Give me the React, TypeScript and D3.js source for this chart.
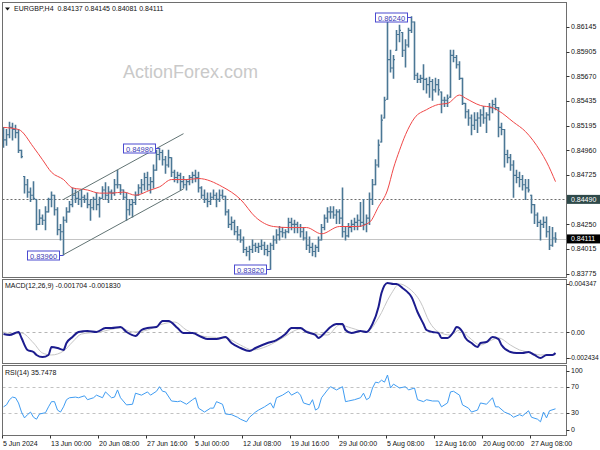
import React, { useRef, useEffect } from 'react';
import * as d3 from 'd3';

// 8-hour bars (two H4 bars per drawn bar)
const highs = [
  0.8518, 0.8516, 0.8523, 0.8522, 0.8520, 0.8516, 0.8496, 0.8471, 0.8468, 0.8460,
  0.8466, 0.8449, 0.8439, 0.8434, 0.8442, 0.8450, 0.8456, 0.8453, 0.8441, 0.8425,
  0.8432, 0.8441, 0.8447, 0.8460, 0.8458, 0.8456, 0.8458, 0.8453, 0.8455, 0.8449,
  0.8451, 0.8455, 0.8451, 0.8461, 0.8465, 0.8461, 0.8458, 0.8468, 0.8477, 0.8463,
  0.8458, 0.8455, 0.8449, 0.8449, 0.8456, 0.8463, 0.8468, 0.8474, 0.8475, 0.8470,
  0.8482, 0.8496, 0.8498, 0.8496, 0.8490, 0.8496, 0.8489, 0.8477, 0.8475, 0.8474,
  0.8471, 0.8468, 0.8472, 0.8475, 0.8477, 0.8475, 0.8461, 0.8458, 0.8455, 0.8455,
  0.8458, 0.8455, 0.8458, 0.8458, 0.8452, 0.8439, 0.8432, 0.8429, 0.8423, 0.8420,
  0.8413, 0.8403, 0.8404, 0.8410, 0.8407, 0.8407, 0.8410, 0.8408, 0.8405, 0.8407,
  0.8414, 0.8420, 0.8423, 0.8422, 0.8420, 0.8431, 0.8431, 0.8429, 0.8427, 0.8425,
  0.8422, 0.8418, 0.8413, 0.8407, 0.8405, 0.8413, 0.8425, 0.8434, 0.8441, 0.8442,
  0.8442, 0.8439, 0.8439, 0.8460, 0.8422, 0.8426, 0.8429, 0.8431, 0.8434, 0.8446,
  0.8449, 0.8434, 0.8455, 0.8468, 0.8487, 0.8506, 0.8530, 0.8547, 0.8619, 0.8592,
  0.8587, 0.8611, 0.8616, 0.8609, 0.8602, 0.8613, 0.8624, 0.8619, 0.8570, 0.8568,
  0.8578, 0.8565, 0.8566, 0.8564, 0.8565, 0.8564, 0.8552, 0.8547, 0.8549, 0.8592,
  0.8592, 0.8587, 0.8581, 0.8565, 0.8541, 0.8535, 0.8530, 0.8532, 0.8532, 0.8535,
  0.8538, 0.8532, 0.8541, 0.8544, 0.8546, 0.8537, 0.8522, 0.8516, 0.8496, 0.8492,
  0.8486, 0.8477, 0.8475, 0.8472, 0.8468, 0.8468, 0.8453, 0.8444, 0.8436, 0.8429,
  0.8432, 0.8432, 0.8423, 0.8422, 0.8417,
];
const lows = [
  0.8499, 0.8501, 0.8508, 0.8506, 0.8508, 0.8494, 0.8489, 0.8455, 0.8451, 0.8447,
  0.8449, 0.8420, 0.8425, 0.8425, 0.8420, 0.8437, 0.8442, 0.8434, 0.8415, 0.8410,
  0.8396, 0.8427, 0.8437, 0.8442, 0.8446, 0.8444, 0.8442, 0.8446, 0.8441, 0.8429,
  0.8439, 0.8439, 0.8432, 0.8450, 0.8449, 0.8446, 0.8449, 0.8453, 0.8460, 0.8454,
  0.8449, 0.8429, 0.8434, 0.8432, 0.8444, 0.8453, 0.8455, 0.8458, 0.8458, 0.8455,
  0.8460, 0.8477, 0.8487, 0.8482, 0.8474, 0.8480, 0.8471, 0.8466, 0.8465, 0.8458,
  0.8460, 0.8458, 0.8463, 0.8465, 0.8466, 0.8456, 0.8450, 0.8446, 0.8442, 0.8444,
  0.8449, 0.8442, 0.8447, 0.8450, 0.8434, 0.8422, 0.8420, 0.8415, 0.8410, 0.8408,
  0.8398, 0.8395, 0.8391, 0.8398, 0.8399, 0.8398, 0.8401, 0.8396, 0.8395, 0.8382,
  0.8401, 0.8407, 0.8410, 0.8413, 0.8412, 0.8417, 0.8420, 0.8417, 0.8417, 0.8413,
  0.8410, 0.8401, 0.8398, 0.8395, 0.8394, 0.8399, 0.8410, 0.8420, 0.8427, 0.8431,
  0.8431, 0.8426, 0.8426, 0.8413, 0.8410, 0.8413, 0.8418, 0.8420, 0.8420, 0.8423,
  0.8420, 0.8418, 0.8425, 0.8444, 0.8463, 0.8480, 0.8504, 0.8527, 0.8545, 0.8571,
  0.8565, 0.8592, 0.8600, 0.8586, 0.8576, 0.8595, 0.8609, 0.8564, 0.8561, 0.8561,
  0.8554, 0.8551, 0.8547, 0.8544, 0.8552, 0.8549, 0.8532, 0.8538, 0.8538, 0.8547,
  0.8581, 0.8575, 0.8564, 0.8540, 0.8527, 0.8520, 0.8511, 0.8516, 0.8513, 0.8519,
  0.8522, 0.8513, 0.8525, 0.8532, 0.8535, 0.8509, 0.8511, 0.8480, 0.8484, 0.8477,
  0.8451, 0.8465, 0.8461, 0.8458, 0.8449, 0.8456, 0.8436, 0.8426, 0.8423, 0.8410,
  0.8422, 0.8413, 0.8401, 0.8404, 0.8408,
];
const closes = [
  0.8506, 0.8511, 0.8518, 0.8516, 0.8513, 0.8496, 0.8490, 0.8463, 0.8456, 0.8453,
  0.8450, 0.8425, 0.8431, 0.8429, 0.8437, 0.8449, 0.8453, 0.8439, 0.8420, 0.8418,
  0.8429, 0.8437, 0.8444, 0.8453, 0.8450, 0.8449, 0.8451, 0.8449, 0.8444, 0.8441,
  0.8449, 0.8444, 0.8450, 0.8458, 0.8453, 0.8456, 0.8455, 0.8463, 0.8463, 0.8458,
  0.8451, 0.8439, 0.8444, 0.8446, 0.8453, 0.8460, 0.8463, 0.8470, 0.8463, 0.8466,
  0.8477, 0.8492, 0.8494, 0.8487, 0.8482, 0.8489, 0.8475, 0.8470, 0.8472, 0.8466,
  0.8463, 0.8466, 0.8470, 0.8472, 0.8470, 0.8460, 0.8453, 0.8449, 0.8447, 0.8451,
  0.8453, 0.8449, 0.8453, 0.8452, 0.8437, 0.8425, 0.8427, 0.8418, 0.8415, 0.8410,
  0.8401, 0.8399, 0.8401, 0.8405, 0.8403, 0.8404, 0.8405, 0.8401, 0.8399, 0.8405,
  0.8410, 0.8415, 0.8418, 0.8417, 0.8418, 0.8427, 0.8425, 0.8425, 0.8422, 0.8418,
  0.8412, 0.8405, 0.8403, 0.8399, 0.8403, 0.8410, 0.8422, 0.8431, 0.8437, 0.8437,
  0.8434, 0.8437, 0.8431, 0.8418, 0.8414, 0.8422, 0.8425, 0.8427, 0.8429, 0.8427,
  0.8425, 0.8431, 0.8449, 0.8463, 0.8482, 0.8501, 0.8525, 0.8544, 0.8583, 0.8575,
  0.8583, 0.8607, 0.8611, 0.8592, 0.8597, 0.8611, 0.8619, 0.8568, 0.8564, 0.8565,
  0.8564, 0.8559, 0.8562, 0.8554, 0.8559, 0.8554, 0.8544, 0.8544, 0.8546, 0.8587,
  0.8585, 0.8578, 0.8565, 0.8541, 0.8533, 0.8527, 0.8520, 0.8525, 0.8527, 0.8530,
  0.8527, 0.8530, 0.8537, 0.8540, 0.8537, 0.8518, 0.8516, 0.8492, 0.8489, 0.8482,
  0.8472, 0.8470, 0.8468, 0.8463, 0.8460, 0.8458, 0.8444, 0.8434, 0.8427, 0.8425,
  0.8427, 0.8418, 0.8405, 0.8412, 0.8411,
];

// moving average, [bar, price]
const maPoints: [number, number][] = [
  [0, 0.8518], [5, 0.8516], [10, 0.8499], [13, 0.8487], [16, 0.8475], [20, 0.8468],
  [23, 0.8460], [28, 0.8458], [32, 0.8455], [36, 0.8455], [40, 0.8456], [44, 0.8453],
  [49, 0.8458], [52, 0.8461], [56, 0.8468], [61, 0.8468], [65, 0.8469], [73, 0.8461],
  [79, 0.8449], [84, 0.8432], [90, 0.8423], [95, 0.8422], [101, 0.8422], [106, 0.8416],
  [112, 0.8423], [118, 0.8423], [122, 0.8427], [125, 0.8442], [128, 0.8458], [130, 0.8479],
  [132, 0.8496], [134, 0.8511], [137, 0.8527], [141, 0.8535], [145, 0.8540], [148, 0.8541],
  [152, 0.8549], [154, 0.8546], [159, 0.8539], [163, 0.8537], [165, 0.8534], [170, 0.8523],
  [174, 0.8514], [179, 0.8495], [181, 0.8485], [184, 0.8466],
];

const macdMain: [number, number][] = [
  [0, -0.00015], [2, -0.00023], [5, 0.00002], [6, -0.00047], [8, -0.00145], [10, -0.00162],
  [11, -0.00186], [13, -0.00203], [15, -0.00186], [16, -0.00121], [18, -0.00129], [20, -0.00145],
  [21, -0.00088], [23, -0.00039], [25, 0.00002], [28, 0.0001], [31, 0.00002], [34, 0.00034],
  [36, 0.00034], [39, 0.00042], [41, 0.00002], [44, -0.00031], [46, 0.00018], [48, 0.00034],
  [51, 0.00042], [53, 0.00092], [55, 0.00092], [58, 0.00034], [60, -0.00007], [63, -0.00007],
  [66, -0.00039], [68, -0.00056], [71, -0.00056], [74, -0.00039], [76, -0.00088], [79, -0.00129],
  [82, -0.00154], [84, -0.00129], [88, -0.00088], [91, -0.00064], [94, -0.00015], [96, 0.00034],
  [99, 0.00034], [101, 0.00002], [104, -0.00023], [105, -0.00047], [107, -0.00007], [109, 0.00042],
  [111, 0.00067], [113, 0.00067], [114, 0.00018], [116, -0.00007], [119, 0.0001], [121, 0.00002],
  [123, 0.00067], [125, 0.00206], [126, 0.0032], [128, 0.00402], [130, 0.00394], [131, 0.00394],
  [133, 0.00361], [135, 0.0032], [136, 0.00288], [138, 0.00165], [140, 0.00067], [141, 0.00018],
  [143, 0.00002], [145, -0.00007], [146, -0.00047], [148, -0.00047], [150, 0.00002], [151, 0.00042],
  [153, 0.00002], [154, -0.00047], [156, -0.00088], [158, -0.00121], [159, -0.00088], [161, -0.0008],
  [163, -0.00039], [165, -0.00056], [166, -0.00105], [169, -0.00162], [171, -0.0017], [173, -0.0017],
  [175, -0.00162], [177, -0.00186], [179, -0.00211], [181, -0.00186], [183, -0.00186], [184, -0.0017],
];
const macdSignal: [number, number][] = [
  [0, 0.00002], [3, -0.00015], [6, -0.00007], [10, -0.00088], [13, -0.0017], [16, -0.00186],
  [20, -0.00154], [23, -0.0008], [26, -0.00015], [32, 0.00002], [39, 0.00034], [43, 0.00002],
  [48, 0.00018], [52, 0.00059], [57, 0.00083], [61, 0.00018], [68, -0.00039], [74, -0.00047],
  [79, -0.00105], [83, -0.00145], [88, -0.00113], [93, -0.00047], [99, 0.00026], [103, -0.00007],
  [108, -0.00023], [112, 0.00059], [116, 0.00034], [121, 0.00002], [125, 0.00116], [129, 0.00304],
  [132, 0.00394], [135, 0.00361], [139, 0.00247], [142, 0.00083], [145, 0.00002], [149, -0.00023],
  [152, 0.00018], [155, -0.00039], [159, -0.00105], [162, -0.00072], [165, -0.00047], [169, -0.00105],
  [172, -0.00145], [175, -0.00162], [179, -0.00186], [184, -0.00183],
];

const rsiPoints: [number, number][] = [
  [0, 39], [1, 42], [2, 50], [3, 54], [4, 53], [5, 45], [6, 31], [7, 22], [8, 27], [9, 31],
  [10, 23], [11, 20], [12, 28], [14, 30], [15, 39], [16, 47], [17, 47], [18, 34], [19, 31], [20, 39],
  [21, 50], [22, 53], [24, 54], [25, 53], [27, 56], [28, 50], [30, 53], [31, 57], [33, 53], [34, 62],
  [36, 53], [37, 54], [38, 65], [39, 53], [41, 42], [43, 43], [44, 60], [46, 57], [48, 62], [49, 57],
  [51, 63], [52, 70], [53, 63], [54, 62], [56, 48], [58, 47], [59, 48], [61, 43], [63, 50], [64, 53],
  [65, 37], [67, 31], [69, 37], [70, 37], [71, 47], [73, 43], [74, 28], [76, 27], [78, 23], [79, 20],
  [81, 16], [82, 23], [84, 31], [85, 34], [87, 39], [89, 45], [90, 37], [91, 53], [93, 57], [95, 63],
  [96, 57], [98, 62], [99, 57], [100, 45], [102, 42], [103, 50], [104, 34], [105, 37], [106, 53], [108, 65],
  [109, 70], [111, 65], [113, 70], [114, 47], [115, 48], [117, 50], [119, 53], [120, 60], [121, 50], [122, 53],
  [123, 68], [124, 77], [125, 76], [126, 80], [127, 77], [128, 88], [129, 68], [130, 74], [132, 68], [134, 70],
  [135, 65], [137, 68], [138, 50], [140, 47], [141, 50], [143, 48], [145, 48], [146, 39], [148, 45], [149, 62],
  [150, 63], [152, 57], [153, 42], [155, 37], [156, 31], [158, 34], [159, 45], [161, 43], [163, 53], [164, 39],
  [165, 39], [167, 31], [169, 27], [170, 23], [172, 27], [173, 25], [175, 33], [176, 23], [178, 20], [179, 16],
  [180, 31], [181, 22], [182, 33], [184, 36],
];

const timeLabels = [
  '5 Jun 2024', '13 Jun 00:00', '20 Jun 08:00', '27 Jun 16:00', '5 Jul 00:00', '12 Jul 08:00',
  '19 Jul 16:00', '29 Jul 00:00', '5 Aug 08:00', '12 Aug 16:00', '20 Aug 00:00', '27 Aug 08:00',
];
const barsPerLabel = 16;
const priceTicks = [0.86145, 0.85905, 0.8567, 0.85435, 0.85195, 0.8496, 0.84725, 0.8425, 0.84015, 0.83775];
const macdTicks = [0.004347, 0, -0.002434];
const rsiTicks = [100, 70, 30, 0];
const rsiLevels = [70, 30];

const pivotBars = [136, 52, 20, 89];
const pivotPrices = [0.8624, 0.8498, 0.8396, 0.8382];

const channelLower: [number, number][] = [[20, 0.8396], [60, 0.8459]];
const channelUpper: [number, number][] = [[20, 0.8449], [60, 0.8512]];
const resistanceLevel = 0.8449;
const lastPrice = 0.84111;

const header = 'EURGBP,H4  0.84137 0.84145 0.84081 0.84111';
const macdTitle = 'MACD(12,26,9) -0.001704 -0.001830';
const rsiTitle = 'RSI(14) 35.7478';

const FONT = "'Liberation Sans', Arial, sans-serif";

const App: React.FC = () => {
  const ref = useRef<SVGSVGElement>(null);

  useEffect(() => {
    if (!ref.current) return;
    const svg = d3.select(ref.current);
    svg.selectAll('*').remove();

    const left = 2.5, right = 566.5;
    const mainTop = 2.5, mainBottom = 277.5;
    const macdTop = 279.5, macdBottom = 363.5;
    const rsiTop = 365.5, rsiBottom = 435.5;

    const x = d3.scaleLinear().domain([0, 184]).range([3.5, 555.5]);
    const y = d3.scaleLinear().domain([0.83746, 0.86382]).range([277, 2]);
    const yM = d3.scaleLinear().domain([-0.002434, 0.004347]).range([362, 279]);
    const yR = d3.scaleLinear().domain([0, 100]).range([432.2, 367.2]);

    svg.append('rect').attr('width', 600).attr('height', 450).attr('fill', '#fff');

    const defs = svg.append('defs');
    const clip = (id: string, t: number, b: number) =>
      defs.append('clipPath').attr('id', id).append('rect')
        .attr('x', left + 0.5).attr('y', t + 0.5).attr('width', right - left - 1).attr('height', b - t - 1);
    clip('clip-main', mainTop, mainBottom);
    clip('clip-macd', macdTop, macdBottom);
    clip('clip-rsi', rsiTop, rsiBottom);

    // watermark
    svg.append('text').attr('x', 123).attr('y', 78).attr('font-family', FONT).attr('font-size', 18)
      .attr('fill', '#c9c9c9').text('ActionForex.com');

    const main = svg.append('g').attr('clip-path', 'url(#clip-main)');

    // levels
    main.append('line').attr('x1', left).attr('x2', right)
      .attr('y1', Math.round(y(resistanceLevel)) + 0.5).attr('y2', Math.round(y(resistanceLevel)) + 0.5)
      .attr('stroke', '#6d6d6d').attr('stroke-dasharray', '2,2');
    main.append('line').attr('x1', left).attr('x2', right)
      .attr('y1', Math.round(y(lastPrice)) + 0.5).attr('y2', Math.round(y(lastPrice)) + 0.5)
      .attr('stroke', '#c4c4c4');

    // OHLC bars; open taken as the previous close, kept inside the bar's range
    const opens = closes.map((c, i) => {
      const prev = i === 0 ? c : closes[i - 1];
      return Math.min(highs[i], Math.max(lows[i], prev));
    });
    let barPath = '';
    let tickPath = '';
    closes.forEach((c, i) => {
      const xc = x(i);
      barPath += `M${xc},${y(highs[i]) - 0.5}V${y(lows[i]) + 0.5}`;
      tickPath += `M${xc - 1.5},${y(opens[i])}H${xc}M${xc},${y(c)}H${xc + 1.5}`;
    });
    main.append('path').attr('d', barPath).attr('fill', 'none')
      .attr('stroke', '#4b7795').attr('stroke-width', 1.6);
    main.append('path').attr('d', tickPath).attr('fill', 'none')
      .attr('stroke', '#4b7795').attr('stroke-width', 1.1);

    // moving average
    const priceLine = d3.line<[number, number]>().x(d => x(d[0])).y(d => y(d[1])).curve(d3.curveMonotoneX);
    main.append('path').attr('d', priceLine(maPoints) as string).attr('fill', 'none')
      .attr('stroke', '#f04848').attr('stroke-width', 1);

    // channel
    [channelLower, channelUpper].forEach(seg => {
      main.append('line')
        .attr('x1', x(seg[0][0])).attr('y1', y(seg[0][1]))
        .attr('x2', x(seg[1][0])).attr('y2', y(seg[1][1]))
        .attr('stroke', '#627474').attr('stroke-width', 1);
    });

    // pivot labels
    pivotBars.forEach((b, i) => {
      const py = Math.round(y(pivotPrices[i])) + 0.5;
      const bx = x(b);
      const boxR = bx - 4;
      const boxW = 32;
      main.append('line').attr('x1', boxR).attr('x2', bx).attr('y1', py).attr('y2', py)
        .attr('stroke', '#4a4ad0');
      main.append('rect').attr('x', boxR - boxW).attr('y', py - 4.5).attr('width', boxW).attr('height', 9)
        .attr('fill', '#fff').attr('stroke', '#4a4ad0');
      main.append('text').attr('x', boxR - boxW / 2).attr('y', py + 3)
        .attr('text-anchor', 'middle').attr('font-family', FONT).attr('font-size', 7.5)
        .attr('fill', '#3c3cb4').text(pivotPrices[i].toFixed(5));
    });

    // MACD
    const macd = svg.append('g').attr('clip-path', 'url(#clip-macd)');
    macd.append('line').attr('x1', left).attr('x2', right)
      .attr('y1', Math.round(yM(0)) + 0.5).attr('y2', Math.round(yM(0)) + 0.5)
      .attr('stroke', '#b5b5b5').attr('stroke-dasharray', '3,3');
    const macdLine = d3.line<[number, number]>().x(d => x(d[0])).y(d => yM(d[1])).curve(d3.curveMonotoneX);
    macd.append('path').attr('d', macdLine(macdSignal) as string).attr('fill', 'none')
      .attr('stroke', '#c6c6c6').attr('stroke-width', 1);
    macd.append('path').attr('d', macdLine(macdMain) as string).attr('fill', 'none')
      .attr('stroke', '#1c1c8e').attr('stroke-width', 2).attr('stroke-linejoin', 'round');

    // RSI
    const rsi = svg.append('g').attr('clip-path', 'url(#clip-rsi)');
    rsiLevels.forEach(l => {
      rsi.append('line').attr('x1', left).attr('x2', right)
        .attr('y1', Math.round(yR(l)) + 0.5).attr('y2', Math.round(yR(l)) + 0.5)
        .attr('stroke', '#c2c2c2').attr('stroke-dasharray', '3,3');
    });
    const rsiLine = d3.line<[number, number]>().x(d => x(d[0])).y(d => yR(d[1]));
    rsi.append('path').attr('d', rsiLine(rsiPoints) as string).attr('fill', 'none')
      .attr('stroke', '#3f9cf2').attr('stroke-width', 1);

    // frames
    [[mainTop, mainBottom], [macdTop, macdBottom], [rsiTop, rsiBottom]].forEach(([t, b]) => {
      svg.append('rect').attr('x', left).attr('y', t).attr('width', right - left).attr('height', b - t)
        .attr('fill', 'none').attr('stroke', '#6e6e6e');
    });

    // right axes
    const axisText = (yy: number, label: string, size = 7, tx = 571) => {
      svg.append('line').attr('x1', right).attr('x2', right + 3)
        .attr('y1', Math.round(yy) + 0.5).attr('y2', Math.round(yy) + 0.5).attr('stroke', '#333');
      svg.append('text').attr('x', tx).attr('y', yy + 2.5).attr('font-family', FONT)
        .attr('font-size', size).attr('fill', '#111').text(label);
    };
    priceTicks.forEach(p => axisText(y(p), p.toFixed(5)));
    macdTicks.forEach(v => {
      const yy = Math.min(Math.max(yM(v), macdTop + 4), macdBottom - 6);
      if (v === 0) axisText(yy, '0.00');
      else axisText(yy, v.toFixed(6), 6.6, 569);
    });
    rsiTicks.forEach(v => {
      const yy = Math.min(Math.max(yR(v), rsiTop + 5), rsiBottom - 6);
      axisText(yy, String(v));
    });

    const axisBox = (p: number, fill: string) => {
      const yy = y(p);
      svg.append('rect').attr('x', right + 0.5).attr('y', yy - 4.5).attr('width', 33).attr('height', 9)
        .attr('fill', fill);
      svg.append('text').attr('x', 571).attr('y', yy + 2.5).attr('font-family', FONT)
        .attr('font-size', 7).attr('fill', '#fff').text(p.toFixed(5));
    };
    axisBox(resistanceLevel, '#2f4a4a');
    axisBox(lastPrice, '#000');

    // time axis
    timeLabels.forEach((t, k) => {
      const tx = Math.round(x(k * barsPerLabel) - 1.5) + 0.5;
      svg.append('line').attr('x1', tx).attr('x2', tx).attr('y1', rsiBottom).attr('y2', rsiBottom + 3)
        .attr('stroke', '#333');
      svg.append('text').attr('x', tx + 0.5).attr('y', 446).attr('font-family', FONT)
        .attr('font-size', 7).attr('fill', '#111').text(t);
    });

    // titles
    svg.append('path').attr('d', 'M5,7.5h5l-2.5,3z').attr('fill', '#111');
    svg.append('text').attr('x', 14).attr('y', 11).attr('font-family', FONT).attr('font-size', 7)
      .attr('fill', '#111').attr('xml:space', 'preserve').text(header);
    svg.append('text').attr('x', 5).attr('y', 288).attr('font-family', FONT).attr('font-size', 7)
      .attr('fill', '#111').text(macdTitle);
    svg.append('text').attr('x', 5).attr('y', 375).attr('font-family', FONT).attr('font-size', 7)
      .attr('fill', '#111').text(rsiTitle);
  }, []);

  return (
    <svg ref={ref} width={600} height={450}
      style={{ position: 'absolute', left: 0, top: 0, display: 'block' }} />
  );
};

export default App;
